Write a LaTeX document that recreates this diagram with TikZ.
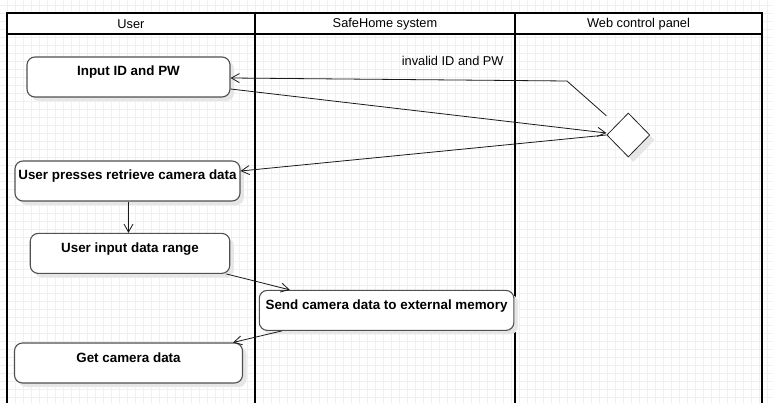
\documentclass[tikz,border=0pt]{standalone}
\usepackage{fontspec}
\setmainfont{Liberation Sans}
\usetikzlibrary{shapes.geometric,arrows.meta,shadows}
\definecolor{gridc}{HTML}{F0F0F0}
\definecolor{boxline}{HTML}{505050}
\definecolor{shade}{HTML}{E6E6E6}
\begin{document}
\begin{tikzpicture}[x=1pt,y=-1pt,
  actbox/.style={draw=boxline, line width=1.1pt, fill=white, rounded corners=8pt,
    inner sep=0pt, text height=19pt, text depth=21pt,
    font=\fontsize{13.4}{15}\selectfont\bfseries,
    drop shadow={shadow xshift=4pt, shadow yshift=-4pt, fill=shade, opacity=1}},
  decision/.style={diamond, draw=black!85, line width=0.8pt, fill=white, inner sep=0pt,
    minimum width=43pt, minimum height=44pt,
    drop shadow={shadow xshift=5pt, shadow yshift=-5pt, fill=shade, opacity=1}},
  flow/.style={draw=black!90, line width=0.8pt, -{Straight Barb[length=8pt,width=9pt,line width=0.8pt]}},
  lane/.style={line width=2pt, black},
  hdr/.style={font=\fontsize{12.8}{14}\selectfont},
  lbl/.style={font=\fontsize{12.8}{14}\selectfont}]
\useasboundingbox (0,0) rectangle (773,403);
\fill[white] (0,0) rectangle (773,403);
% grid
\foreach \gx in {-1,7,...,775} {\draw[gridc, line width=0.8pt] (\gx,0) -- (\gx,403);}
\foreach \gy in {5,13,...,405} {\draw[gridc, line width=0.8pt] (0,\gy) -- (773,\gy);}
% swimlanes
\fill[white] (7,13) rectangle (762,34);
\draw[lane] (7,404) -- (7,13) -- (762,13) -- (762,404);
\draw[lane] (7,34) -- (762,34);
\draw[lane] (255,13) -- (255,404);
\draw[lane] (515,13) -- (515,404);
\node[hdr] (h1) at (131,24) {User};
\node[hdr] (h2) at (385,24) {SafeHome system};
\node[hdr] (h3) at (638.5,24) {Web control panel};
% activities
\node[actbox, minimum width=203pt] (inp) at (128.5,77) {Input ID and PW};
\node[actbox, minimum width=225pt] (ret) at (127.5,181) {User presses retrieve camera data};
\node[actbox, minimum width=199.5pt] (rng) at (130,253.4) {User input data range};
\node[actbox, minimum width=254.6pt] (snd) at (386.6,310.4) {Send camera data to external memory};
\node[actbox, minimum width=228pt] (get) at (128.5,363) {Get camera data};
\node[decision] (dec) at (628.3,135) {};
% connectors
\coordinate (bend) at (567,81);
\draw[flow] ([yshift=-12pt]inp.east) -- ([yshift=2pt]dec.west);
\draw[flow] ([shift={(-11pt,8pt)}]dec.north west) -- (bend) -- ([yshift=-1pt]inp.east);
\node[lbl] (inv) at (452.7,60.7) {invalid ID and PW};
\draw[flow] (dec.west) -- ([yshift=10pt]ret.east);
\draw[flow] ([xshift=1pt]ret.south) -- ([xshift=1pt]ret.south |- rng.north);
\draw[flow] ([xshift=-4pt]rng.south east) -- ([xshift=31pt]snd.north west);
\draw[flow] ([xshift=23pt]snd.south west) -- ([xshift=-10pt]get.north east);
\end{tikzpicture}
\end{document}
